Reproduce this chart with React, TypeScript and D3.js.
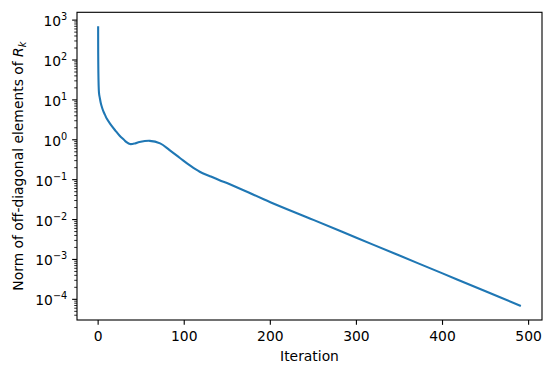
import React, { useEffect, useRef } from 'react';
import * as d3 from 'd3';

// iteration index and the norm of the off-diagonal part of R_k
const iterations = [0, 1, 2, 3, 4, 6, 8, 10, 14, 20, 25, 30, 33, 37, 43, 48, 60, 72, 83, 95, 107, 118, 130, 141, 153, 200, 250, 300, 350, 400, 450, 491];
const offDiagNorm = [700, 15, 11, 8.5, 7, 5.2, 4.2, 3.4, 2.5, 1.7, 1.26, 1.0, 0.87, 0.78, 0.81, 0.875, 0.94, 0.81, 0.55, 0.35, 0.224, 0.158, 0.122, 0.097, 0.077, 0.0272, 0.0098, 0.0035, 0.00125, 0.000447, 0.000159, 0.000068];

const xTicks = [0, 100, 200, 300, 400, 500];
const yTickExponents = [-4, -3, -2, -1, 0, 1, 2, 3];

const App: React.FC = () => {
  const svgRef = useRef<SVGSVGElement>(null);

  useEffect(() => {
    if (!svgRef.current) return;
    const svg = d3.select(svgRef.current);
    svg.selectAll('*').remove();

    const width = 551;
    const height = 373;
    const left = 77, right = 542, top = 12.3, bottom = 320;
    const pt = 100 / 72; // matplotlib points -> px at dpi 100
    const font = 'DejaVu Sans';
    const fs = 10 * pt;

    svg.attr('width', width).attr('height', height);
    svg.append('rect').attr('width', width).attr('height', height).attr('fill', '#fff');

    // 5% margins like matplotlib's autoscale
    const xMin = d3.min(iterations)!, xMax = d3.max(iterations)!;
    const xPad = (xMax - xMin) * 0.05;
    const x = d3.scaleLinear().domain([xMin - xPad, xMax + xPad]).range([left, right]);

    const lMin = Math.log10(d3.min(offDiagNorm)!), lMax = Math.log10(d3.max(offDiagNorm)!);
    const lPad = (lMax - lMin) * 0.05;
    const y = d3.scaleLog().domain([10 ** (lMin - lPad), 10 ** (lMax + lPad)]).range([bottom, top]);

    const data = iterations.map((d, i) => [d, offDiagNorm[i]] as [number, number]);

    const line = d3.line<[number, number]>()
      .x(d => x(d[0]))
      .y(d => y(d[1]))
      .curve(d3.curveCatmullRom.alpha(0.5));

    svg.append('path')
      .datum(data)
      .attr('d', line)
      .attr('fill', 'none')
      .attr('stroke', '#1f77b4')
      .attr('stroke-width', 1.5 * pt)
      .attr('stroke-linejoin', 'round');

    // spines
    svg.append('rect')
      .attr('x', left).attr('y', top)
      .attr('width', right - left).attr('height', bottom - top)
      .attr('fill', 'none')
      .attr('stroke', '#000')
      .attr('stroke-width', 0.8 * pt);

    const major = 3.5 * pt, minor = 2 * pt, pad = 3.5 * pt;

    // x axis
    const xg = svg.append('g');
    xTicks.forEach(t => {
      xg.append('line')
        .attr('x1', x(t)).attr('x2', x(t))
        .attr('y1', bottom).attr('y2', bottom + major)
        .attr('stroke', '#000').attr('stroke-width', 0.8 * pt);
      xg.append('text')
        .attr('x', x(t)).attr('y', bottom + major + pad + 10.8)
        .attr('text-anchor', 'middle')
        .attr('font-family', font).attr('font-size', fs)
        .text(t);
    });

    // y axis: major ticks with 10^n labels
    const yg = svg.append('g');
    yTickExponents.forEach(e => {
      const yy = y(10 ** e);
      yg.append('line')
        .attr('x1', left - major).attr('x2', left)
        .attr('y1', yy).attr('y2', yy)
        .attr('stroke', '#000').attr('stroke-width', 0.8 * pt);
      const label = yg.append('text')
        .attr('x', left - major - pad).attr('y', yy + 6)
        .attr('text-anchor', 'end')
        .attr('font-family', font).attr('font-size', fs);
      label.append('tspan').text('10');
      label.append('tspan')
        .attr('dy', -6)
        .attr('font-size', fs * 0.7)
        .text(e < 0 ? `\u2212${-e}` : `${e}`);
    });

    // minor log ticks
    const [d0, d1] = y.domain();
    for (let e = Math.floor(Math.log10(d0)); e <= Math.ceil(Math.log10(d1)); e++) {
      for (let m = 2; m <= 9; m++) {
        const v = m * 10 ** e;
        if (v < d0 || v > d1) continue;
        yg.append('line')
          .attr('x1', left - minor).attr('x2', left)
          .attr('y1', y(v)).attr('y2', y(v))
          .attr('stroke', '#000').attr('stroke-width', 0.6 * pt);
      }
    }

    // axis labels
    svg.append('text')
      .attr('x', (left + right) / 2).attr('y', 360.5)
      .attr('text-anchor', 'middle')
      .attr('font-family', font).attr('font-size', fs)
      .text('Iteration');

    const yl = svg.append('text')
      .attr('transform', `translate(23, ${(top + bottom) / 2}) rotate(-90)`)
      .attr('text-anchor', 'middle')
      .attr('font-family', font).attr('font-size', fs);
    yl.append('tspan').text('Norm of off-diagonal elements of ');
    yl.append('tspan').attr('font-style', 'italic').text('R');
    yl.append('tspan')
      .attr('font-style', 'italic')
      .attr('font-size', fs * 0.7)
      .attr('dy', 3)
      .text('k');
  }, []);

  return (
    <div style={{ position: 'absolute', left: 0, top: 0 }}>
      <svg ref={svgRef} style={{ display: 'block' }}></svg>
    </div>
  );
};

export default App;
